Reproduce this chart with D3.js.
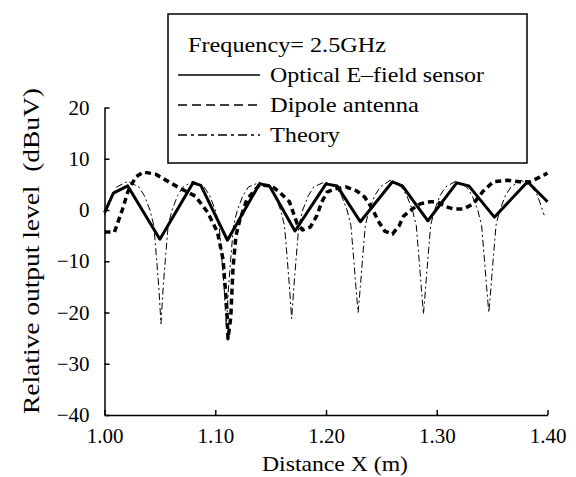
<!DOCTYPE html>
<meta charset="utf-8">
<title>Relative output level vs distance</title>
<script src="https://d3js.org/d3.v7.min.js"></script>
<style>
  body { margin: 0; background: #fff; }
</style>
<div id="chart"></div>
<script>
  // measured curves, [distance (m), level (dBuV)]
  var optical = [
    [1.000, -0.5], [1.008, 3.3], [1.021, 4.7], [1.050, -5.7], [1.080, 5.3], [1.087, 4.8],
    [1.111, -5.9], [1.140, 5.1], [1.149, 4.7], [1.172, -4.1], [1.200, 5.1], [1.210, 4.7],
    [1.231, -2.3], [1.260, 5.5], [1.269, 4.7], [1.292, -2.1], [1.318, 5.3], [1.329, 4.7],
    [1.352, -1.4], [1.382, 5.5], [1.400, 1.6]
  ];

  var dipole = [
    [1.000, -4.3], [1.009, -4.3], [1.016, 0.0], [1.021, 3.5], [1.028, 6.4], [1.035, 7.4],
    [1.046, 7.0], [1.066, 4.5], [1.082, 2.7], [1.093, -0.4], [1.102, -4.3], [1.107, -9.6],
    [1.1105, -19.3], [1.1115, -25.1], [1.114, -21], [1.116, -11.5], [1.1187, -5], [1.122, -2.1],
    [1.1286, 2.1], [1.140, 4.9], [1.151, 4.7], [1.158, 3.5], [1.167, 1.6], [1.174, -2.7],
    [1.179, -3.9], [1.186, -3.3], [1.192, -1.0], [1.196, 1.5], [1.201, 3.5], [1.208, 4.1],
    [1.218, 4.5], [1.228, 3.7], [1.235, 2.5], [1.242, 0.2], [1.247, -2.1], [1.253, -4.1],
    [1.260, -4.7], [1.266, -3.1], [1.270, -1.2], [1.278, 0.2], [1.285, 1.2], [1.294, 1.6],
    [1.300, 1.6], [1.309, 0.6], [1.315, 0.2], [1.324, 0.2], [1.333, 1.2], [1.342, 3.7],
    [1.351, 5.5], [1.364, 5.8], [1.375, 5.5], [1.384, 5.5], [1.393, 6.4], [1.400, 7.2]
  ];

  var theory = [
    [1.000, -1.0], [1.005, 1.5], [1.011, 4.5], [1.021, 5.6], [1.031, 4.5], [1.036, 2.8],
    [1.041, 0], [1.0445, -3], [1.047, -9.5], [1.049, -15], [1.051, -22.2], [1.053, -15],
    [1.055, -9.5], [1.0575, -3], [1.061, 0], [1.066, 2.8], [1.071, 4.5], [1.080, 5.6],
    [1.090, 4.5], [1.095, 2.8], [1.100, 0], [1.1035, -3], [1.106, -9.5], [1.108, -15],
    [1.110, -23], [1.112, -15], [1.114, -9.5], [1.1165, -3], [1.120, 0], [1.125, 2.8],
    [1.130, 4.5], [1.140, 5.4], [1.149, 4.5], [1.154, 2.8], [1.159, 0], [1.1625, -3],
    [1.165, -9.5], [1.167, -15], [1.169, -21.2], [1.171, -15], [1.173, -9.5], [1.1755, -3],
    [1.179, 0], [1.184, 2.8], [1.189, 4.5], [1.199, 5.5], [1.209, 4.5], [1.214, 2.8],
    [1.219, 0], [1.2225, -3], [1.225, -9.5], [1.227, -15], [1.229, -20], [1.231, -15],
    [1.233, -9.5], [1.2355, -3], [1.239, 0], [1.244, 2.8], [1.249, 4.5], [1.258, 5.8],
    [1.268, 4.5], [1.273, 2.8], [1.278, 0], [1.2815, -3], [1.284, -9.5], [1.286, -15],
    [1.288, -20.3], [1.290, -15], [1.292, -9.5], [1.2945, -3], [1.298, 0], [1.303, 2.8],
    [1.308, 4.5], [1.317, 5.6], [1.327, 4.5], [1.332, 2.8], [1.337, 0], [1.3405, -3],
    [1.343, -9.5], [1.345, -15], [1.347, -20], [1.349, -15], [1.351, -9.5], [1.3535, -3],
    [1.357, 0], [1.362, 2.8], [1.367, 4.5], [1.376, 5.8], [1.386, 4.5], [1.391, 2.8],
    [1.397, -1.0]
  ];

  var xTicks = [1.00, 1.10, 1.20, 1.30, 1.40];
  var yTicks = [-40, -30, -20, -10, 0, 10, 20];
  var legendTitle = "Frequency= 2.5GHz";
  var seriesNames = ["Optical E\u2013field sensor", "Dipole antenna", "Theory"];

  var serif = '"Liberation Serif", "DejaVu Serif", serif';
  var width = 576, height = 477;
  var plot = { left: 104.5, right: 547.5, top: 107.5, bottom: 415 };

  var svg = d3.select("#chart").append("svg")
    .attr("width", width)
    .attr("height", height);

  var x = d3.scaleLinear().domain([1.00, 1.40]).range([plot.left, plot.right]);
  var y = d3.scaleLinear().domain([-40, 20]).range([plot.bottom, plot.top]);

  // axes, ticks point inward
  svg.append("g")
    .attr("transform", "translate(0," + plot.bottom + ")")
    .call(d3.axisBottom(x).tickValues(xTicks).tickSizeInner(-5).tickSizeOuter(0)
      .tickPadding(13).tickFormat(d3.format(".2f")));

  svg.append("g")
    .attr("transform", "translate(" + plot.left + ",0)")
    .call(d3.axisLeft(y).tickValues(yTicks).tickSizeInner(-5).tickSizeOuter(0)
      .tickPadding(15).tickFormat(function (d) { return d < 0 ? "\u2212" + Math.abs(d) : d; }));

  svg.selectAll(".domain, .tick line").attr("stroke", "#000").attr("stroke-width", 1.5);
  svg.selectAll(".tick text")
    .attr("fill", "#000")
    .style("font-family", serif)
    .style("font-size", "21px");

  // curves
  var line = d3.line()
    .x(function (d) { return x(d[0]); })
    .y(function (d) { return y(d[1]); });

  var styles = [
    { data: optical, width: 3, dash: null },
    { data: dipole, width: 3.5, dash: "6,4" },
    { data: theory, width: 1, dash: "7,3,2,3" }
  ];

  svg.append("g").selectAll("path")
    .data([styles[2], styles[1], styles[0]])
    .enter().append("path")
    .attr("d", function (d) { return line(d.data); })
    .attr("fill", "none")
    .attr("stroke", "#000")
    .attr("stroke-width", function (d) { return d.width; })
    .attr("stroke-dasharray", function (d) { return d.dash; })
    .attr("stroke-linejoin", "round");

  // axis titles, stretched to the widths of the original lettering
  svg.append("text")
    .attr("x", 335).attr("y", 471)
    .attr("text-anchor", "middle")
    .attr("textLength", 146).attr("lengthAdjust", "spacingAndGlyphs")
    .style("font-family", serif)
    .style("font-size", "21px")
    .text("Distance X (m)");

  svg.append("text")
    .attr("transform", "translate(39,251) rotate(-90)")
    .attr("text-anchor", "middle")
    .attr("textLength", 326).attr("lengthAdjust", "spacingAndGlyphs")
    .style("font-family", serif)
    .style("font-size", "23px")
    .style("white-space", "pre")
    .text("Relative output level  (dBuV)");

  // legend box
  var legend = svg.append("g");
  legend.append("rect")
    .attr("x", 168).attr("y", 14)
    .attr("width", 359).attr("height", 149)
    .attr("fill", "#fff").attr("stroke", "#000").attr("stroke-width", 1.5);

  legend.append("text")
    .attr("x", 188).attr("y", 52)
    .attr("textLength", 198).attr("lengthAdjust", "spacingAndGlyphs")
    .style("font-family", serif)
    .style("font-size", "21px")
    .text(legendTitle);

  var rows = legend.selectAll(".row")
    .data(seriesNames)
    .enter().append("g")
    .attr("class", "row")
    .attr("transform", function (d, i) { return "translate(0," + (75 + i * 30) + ")"; });

  rows.append("line")
    .attr("x1", 178).attr("x2", 260)
    .attr("stroke", "#000").attr("stroke-width", 1.5)
    .attr("stroke-dasharray", function (d, i) { return [null, "9,5", "9,4,3,4"][i]; });

  rows.append("text")
    .attr("x", 270).attr("y", 7)
    .attr("textLength", function (d, i) { return [214, 149, 70][i]; })
    .attr("lengthAdjust", "spacingAndGlyphs")
    .style("font-family", serif)
    .style("font-size", "21px")
    .text(function (d) { return d; });
</script>
